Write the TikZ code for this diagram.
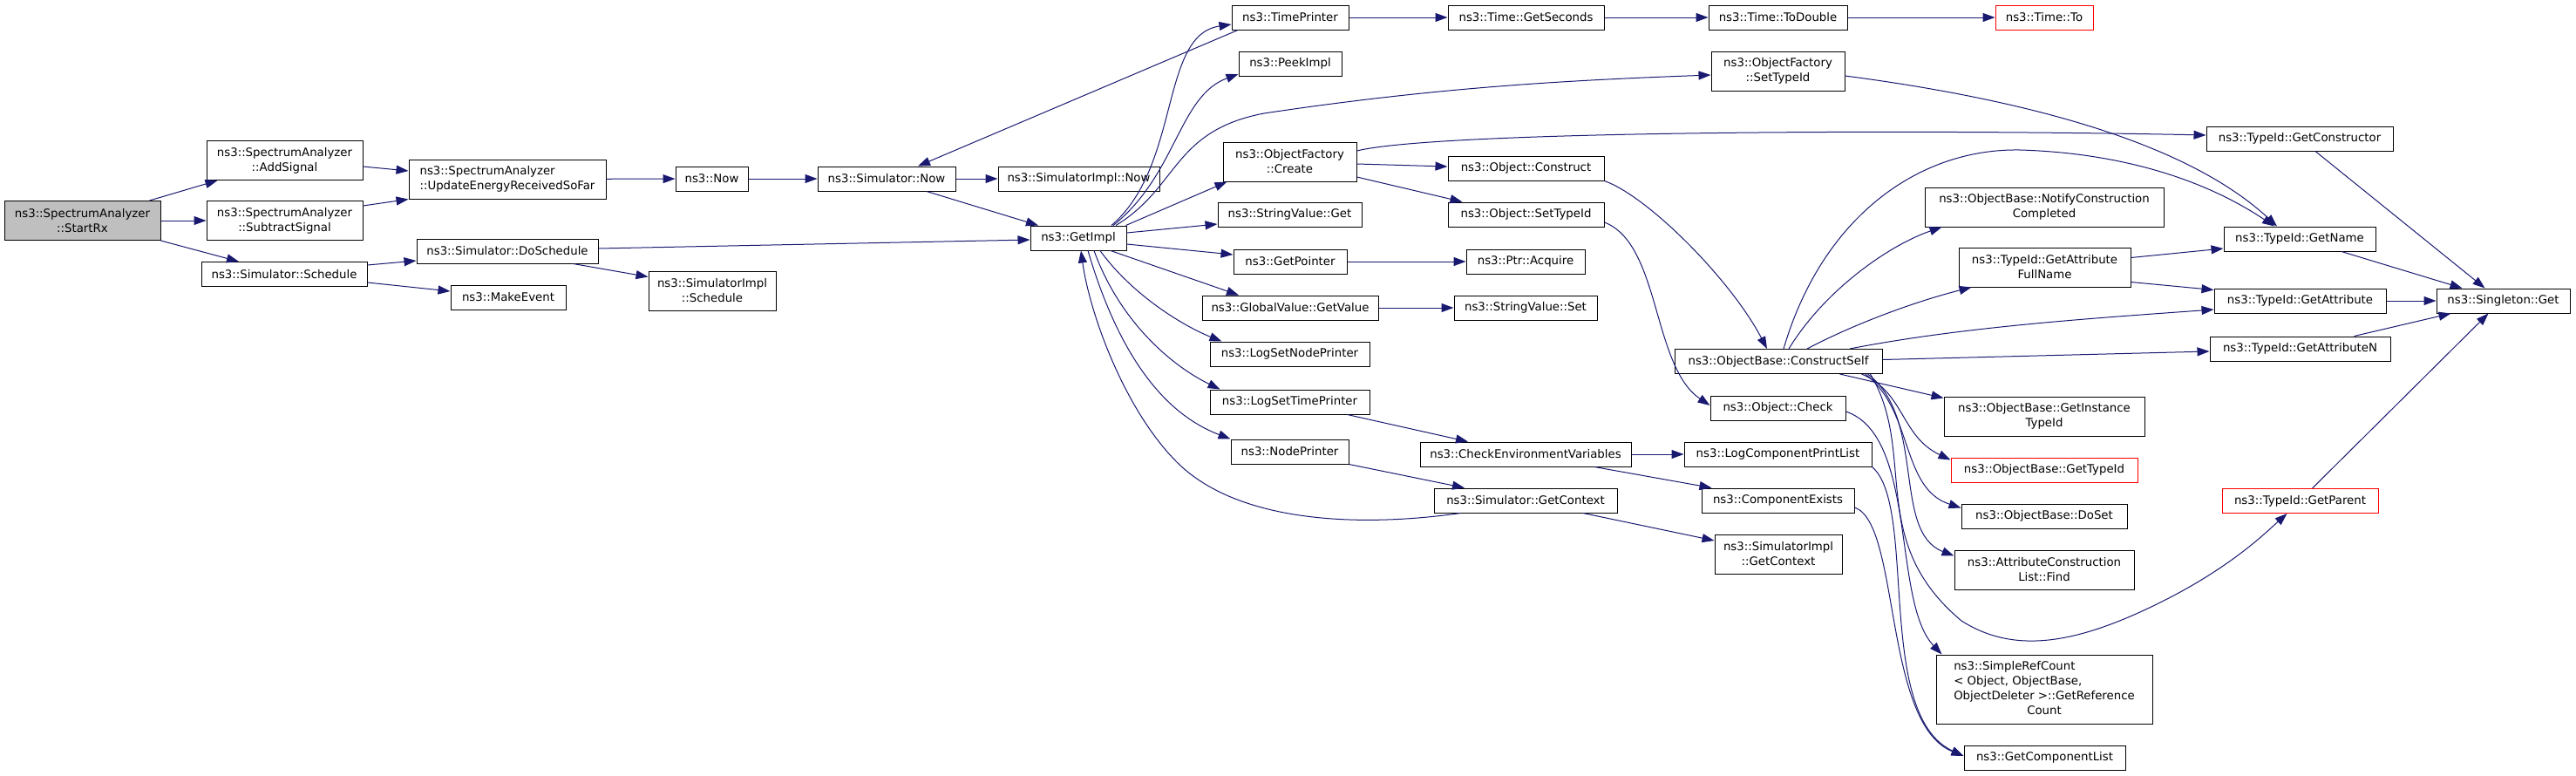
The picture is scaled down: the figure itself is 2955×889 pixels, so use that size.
\documentclass[tikz,border=0pt]{standalone}
\usepackage{fontspec}
\setmainfont{DejaVu Sans}
\usetikzlibrary{arrows.meta}
\definecolor{navyline}{RGB}{25,25,112}
\begin{document}
\begin{tikzpicture}[
            x=1pt, y=-1pt,
            fn/.style={draw=black, line width=1pt, fill=white, inner sep=0pt, align=center,
              font=\fontsize{13.3}{17}\selectfont},
            one/.style={fn, minimum height=28pt},
            two/.style={fn, minimum height=45pt},
            root/.style={two, fill=gray!50},
            ext/.style={one, draw=red},
            call/.style={draw=navyline, line width=1pt, -{Triangle[length=14pt,width=10pt]}}
            ]
            \useasboundingbox (0,0) rectangle (2955,889);
            % column 1-3
            \node[root, minimum width=179pt] (startrx) at (94.5,253) {ns3::SpectrumAnalyzer\\::StartRx};
            \node[two, minimum width=179pt] (addsig) at (326.5,184) {ns3::SpectrumAnalyzer\\::AddSignal};
            \node[two, minimum width=179pt] (subsig) at (326.5,253) {ns3::SpectrumAnalyzer\\::SubtractSignal};
            \node[one, minimum width=190pt] (schedule) at (326,314.5) {ns3::Simulator::Schedule};
            \node[two, minimum width=226pt, align=left] (update) at (582,205.5) {ns3::SpectrumAnalyzer\\::UpdateEnergyReceivedSoFar};
            \node[one, minimum width=208pt] (dosched) at (582,288) {ns3::Simulator::DoSchedule};
            \node[one, minimum width=132pt] (makeevent) at (583,341) {ns3::MakeEvent};
            \node[one, minimum width=83pt] (now) at (816.5,205) {ns3::Now};
            \node[two, minimum width=146pt] (implsched) at (817,333.5) {ns3::SimulatorImpl\\::Schedule};
            \node[one, minimum width=158pt] (simnow) at (1017,205) {ns3::Simulator::Now};
            \node[one, minimum width=185pt] (implnow) at (1237.5,205) {ns3::SimulatorImpl::Now};
            \node[one, minimum width=110pt] (getimpl) at (1237,273) {ns3::GetImpl};
            % callees of GetImpl
            \node[one, minimum width=134pt] (timeprinter) at (1480,20) {ns3::TimePrinter};
            \node[one, minimum width=118pt] (peekimpl) at (1480,73) {ns3::PeekImpl};
            \node[two, minimum width=153pt] (create) at (1479.5,185.5) {ns3::ObjectFactory\\::Create};
            \node[one, minimum width=165pt] (strget) at (1479.5,246) {ns3::StringValue::Get};
            \node[one, minimum width=130pt] (getpointer) at (1480,300) {ns3::GetPointer};
            \node[one, minimum width=202pt] (getvalue) at (1480,353) {ns3::GlobalValue::GetValue};
            \node[one, minimum width=183pt] (lognode) at (1479.5,406) {ns3::LogSetNodePrinter};
            \node[one, minimum width=183pt] (logtime) at (1479.5,461) {ns3::LogSetTimePrinter};
            \node[one, minimum width=135pt] (nodeprinter) at (1479.5,518) {ns3::NodePrinter};
            \node[one, minimum width=179pt] (getseconds) at (1750.5,20) {ns3::Time::GetSeconds};
            \node[one, minimum width=179pt] (construct) at (1750.5,193) {ns3::Object::Construct};
            \node[one, minimum width=179pt] (settypeid) at (1750.5,246) {ns3::Object::SetTypeId};
            \node[one, minimum width=136pt] (acquire) at (1750,300) {ns3::Ptr::Acquire};
            \node[one, minimum width=164pt] (strset) at (1750,353) {ns3::StringValue::Set};
            \node[one, minimum width=242pt] (checkenv) at (1750,521) {ns3::CheckEnvironmentVariables};
            \node[one, minimum width=210pt] (getcontext) at (1750,574) {ns3::Simulator::GetContext};
            \node[one, minimum width=159pt] (todouble) at (2039.5,20) {ns3::Time::ToDouble};
            \node[two, minimum width=153pt] (factsettype) at (2039.5,81.5) {ns3::ObjectFactory\\::SetTypeId};
            \node[one, minimum width=238pt] (constructself) at (2040,414.5) {ns3::ObjectBase::ConstructSelf};
            \node[one, minimum width=155pt] (check) at (2039.5,468) {ns3::Object::Check};
            \node[one, minimum width=215pt] (printlist) at (2039.5,521) {ns3::LogComponentPrintList};
            \node[one, minimum width=175pt] (compexists) at (2039.5,574) {ns3::ComponentExists};
            \node[two, minimum width=146pt] (implcontext) at (2040,635.5) {ns3::SimulatorImpl\\::GetContext};
            % callees of ConstructSelf
            \node[ext, minimum width=112pt] (timeto) at (2345,20) {ns3::Time::To};
            \node[two, minimum width=274pt] (notify) at (2345,237.5) {ns3::ObjectBase::NotifyConstruction\\Completed};
            \node[two, minimum width=197pt] (fullname) at (2345.5,306.5) {ns3::TypeId::GetAttribute\\FullName};
            \node[two, minimum width=230pt] (instancetype) at (2345,477.5) {ns3::ObjectBase::GetInstance\\TypeId};
            \node[ext, minimum width=214pt] (obgettypeid) at (2345,539) {ns3::ObjectBase::GetTypeId};
            \node[one, minimum width=190pt] (doset) at (2345,592) {ns3::ObjectBase::DoSet};
            \node[two, minimum width=206pt] (acfind) at (2345,653.5) {ns3::AttributeConstruction\\List::Find};
            \node[fn, minimum width=248pt, minimum height=79pt] (refcount) at (2345,790.5)
              {\begin{tabular}{@{}l@{}}ns3::SimpleRefCount\\< Object, ObjectBase,\\ ObjectDeleter >::GetReference\\\multicolumn{1}{@{}c@{}}{Count}\end{tabular}};
            \node[one, minimum width=185pt] (getcomplist) at (2345.5,869) {ns3::GetComponentList};
            \node[one, minimum width=214pt] (getconstructor) at (2638,159) {ns3::TypeId::GetConstructor};
            \node[one, minimum width=174pt] (getname) at (2638,274) {ns3::TypeId::GetName};
            \node[one, minimum width=197pt] (getattribute) at (2638.5,345) {ns3::TypeId::GetAttribute};
            \node[one, minimum width=207pt] (getattributen) at (2638.5,400) {ns3::TypeId::GetAttributeN};
            \node[ext, minimum width=179pt] (getparent) at (2638.5,574.5) {ns3::TypeId::GetParent};
            \node[one, minimum width=153pt] (singleton) at (2871.5,345) {ns3::Singleton::Get};
            % calls
            \draw[call] ([xshift=-13pt]startrx.north east) -- ([xshift=13pt]addsig.south west);
            \draw[call] (startrx) -- (subsig);
            \draw[call] (startrx.south east) -- ([xshift=-52pt]schedule.north);
            \draw[call] ([yshift=-7pt]addsig.east) -- ([yshift=9.5pt]update.west);
            \draw[call] ([yshift=17pt]subsig.east) -- (update.south west);
            \draw[call] (update) -- (now);
            \draw[call] (now) -- (simnow);
            \draw[call] (simnow) -- (implnow);
            \draw[call] ([xshift=46pt]simnow.south) -- ([xshift=-46pt]getimpl.north);
            \draw[call] ([yshift=10.5pt]schedule.east) -- ([yshift=-11pt]dosched.west);
            \draw[call] ([yshift=-9.5pt]schedule.east) -- ([yshift=7pt]makeevent.west);
            \draw[call] ([yshift=3pt]dosched.east) -- ([yshift=-2pt]getimpl.west);
            \draw[call] ([xshift=-29pt]dosched.south east) -- ([yshift=-7pt]implsched.north west);
            \draw[call] ([xshift=38pt]getimpl.north) .. controls (1355,190) and (1330,40) .. ([yshift=-8pt]timeprinter.west);
            \draw[call] ([xshift=-60pt]timeprinter.south) -- ([xshift=36pt]simnow.north);
            \draw[call] ([xshift=40pt]getimpl.north) .. controls (1350,200) and (1352,110) .. ([yshift=-12pt]peekimpl.west);
            \draw[call] ([xshift=43pt]getimpl.north) .. controls (1352,215) and (1345,150) .. (1450,130)
              .. controls (1650,100) and (1800,92) .. ([yshift=-4.5pt]factsettype.west);
            \draw[call] ([xshift=-1pt]getimpl.north east) -- ([xshift=5pt]create.south west);
            \draw[call] ([yshift=6pt]getimpl.east) -- ([yshift=-11pt]strget.west);
            \draw[call] ([yshift=-7pt]getimpl.east) -- ([yshift=8pt]getpointer.west);
            \draw[call] ([xshift=37pt]getimpl.south) -- ([xshift=-59pt]getvalue.north);
            \draw[call] ([xshift=25pt]getimpl.south) .. controls (1300,340) and (1360,375) .. ([xshift=14pt]lognode.north west);
            \draw[call] ([xshift=18pt]getimpl.south) .. controls (1285,370) and (1345,420) .. ([xshift=12pt]logtime.north west);
            \draw[call] ([xshift=11pt]getimpl.south) .. controls (1290,430) and (1350,480) .. (nodeprinter.north west);
            \draw[call] ([xshift=31pt]getcontext.south west) .. controls (1560,605) and (1420,600) .. (1350,530)
              .. controls (1290,470) and (1250,360) .. ([xshift=3pt]getimpl.south);
            \draw[call] (timeprinter) -- (getseconds);
            \draw[call] (getseconds) -- (todouble);
            \draw[call] (todouble) -- (timeto);
            \draw[call] ([yshift=12.5pt]create.east) .. controls (1650,150) and (2200,148) .. ([yshift=4pt]getconstructor.west);
            \draw[call] ([yshift=-2.5pt]create.east) -- ([yshift=2pt]construct.west);
            \draw[call] ([yshift=-17.5pt]create.east) -- ([xshift=17pt]settypeid.north west);
            \draw[call] (getpointer) -- (acquire);
            \draw[call] (getvalue) -- (strset);
            \draw[call] ([xshift=-26pt]logtime.south east) -- ([xshift=-66pt]checkenv.north);
            \draw[call] (nodeprinter.south east) -- ([xshift=-70pt]getcontext.north);
            \draw[call] (checkenv) -- (printlist);
            \draw[call] ([xshift=79pt]checkenv.south) -- ([xshift=-76pt]compexists.north);
            \draw[call] ([xshift=66pt]getcontext.south) -- ([yshift=15.5pt]implcontext.west);
            \draw[call] (construct.south east) .. controls (1890,225) and (1985,320) .. ([xshift=-13pt]constructself.north);
            \draw[call] ([yshift=-9pt]settypeid.east) .. controls (1905,280) and (1895,420) .. ([yshift=3pt]check.west);
            \draw[call] ([yshift=-5.5pt]factsettype.east) .. controls (2330,115) and (2510,165) .. ([xshift=-26pt]getname.north);
            \draw[call] ([xshift=6pt]constructself.north) .. controls (2090,250) and (2200,170) .. (2317,172)
              .. controls (2420,175) and (2520,200) .. ([xshift=-29pt]getname.north);
            \draw[call] ([xshift=12pt]constructself.north) .. controls (2095,330) and (2170,280) .. ([xshift=20pt]notify.south west);
            \draw[call] ([xshift=33pt]constructself.north) .. controls (2130,370) and (2200,345) .. ([xshift=15pt]fullname.south west);
            \draw[call] ([xshift=82pt]constructself.north) .. controls (2250,375) and (2400,365) .. ([yshift=-10pt]getattribute.west);
            \draw[call] ([yshift=2pt]constructself.east) -- ([yshift=-3pt]getattributen.west);
            \draw[call] ([xshift=-49pt]constructself.south east) -- ([yshift=-2pt]instancetype.north west);
            \draw[call] ([xshift=-24pt]constructself.south east) .. controls (2185,450) and (2180,500) .. ([yshift=-3pt]obgettypeid.north west);
            \draw[call] ([xshift=-20pt]constructself.south east) .. controls (2195,470) and (2180,560) .. ([yshift=-5pt]doset.north west);
            \draw[call] ([xshift=-17pt]constructself.south east) .. controls (2210,480) and (2170,610) .. ([yshift=-7pt]acfind.north west);
            \draw[call] ([xshift=-14pt]constructself.south east) .. controls (2200,520) and (2140,620) .. (2250,712)
              .. controls (2310,750) and (2380,740) .. (2480,690) .. controls (2560,650) and (2600,610) .. ([xshift=-15pt]getparent.south);
            \draw[call] ([yshift=-4pt]check.east) .. controls (2200,500) and (2170,690) .. ([xshift=7pt]refcount.north west);
            \draw[call] (printlist.south east) .. controls (2200,580) and (2150,820) .. ([yshift=2pt]getcomplist.west);
            \draw[call] ([yshift=-8pt]compexists.east) .. controls (2180,600) and (2160,830) .. ([yshift=2pt]getcomplist.west);
            \draw[call] ([yshift=-12pt]fullname.north east) -- ([yshift=-11pt]getname.west);
            \draw[call] ([yshift=6pt]fullname.south east) -- ([yshift=-2pt]getattribute.north west);
            \draw[call] ([xshift=48pt]getname.south) -- ([xshift=30pt]singleton.north west);
            \draw[call] ([xshift=18pt]getconstructor.south) -- ([xshift=-21pt]singleton.north);
            \draw[call] (getattribute) -- (singleton);
            \draw[call] ([xshift=62pt]getattributen.north) -- ([xshift=17pt]singleton.south west);
            \draw[call] ([xshift=14pt]getparent.north) -- ([xshift=-17pt]singleton.south);
        \end{tikzpicture}
\end{document}
